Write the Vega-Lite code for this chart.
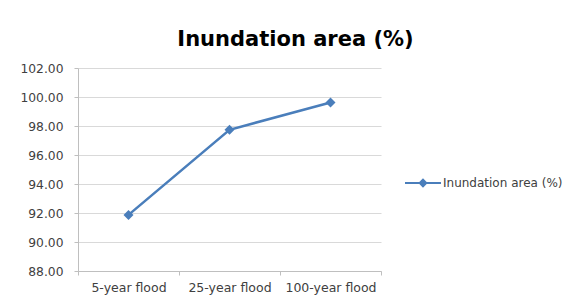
{
  "$schema": "https://vega.github.io/schema/vega-lite/v6.json",
  "autosize": {"type": "none"},
  "padding": {"left": 78, "top": 68, "right": 195, "bottom": 31},
  "width": 303,
  "height": 203,
  "background": "white",
  "config": {
    "font": "DejaVu Sans",
    "view": {"stroke": null}
  },
  "title": {
    "text": "Inundation area (%)",
    "font": "DejaVu Sans",
    "fontSize": 21,
    "fontWeight": "bold",
    "color": "#000000",
    "anchor": "middle",
    "dx": 66,
    "offset": 12
  },
  "data": {
    "values": [
      {"event": "5-year flood", "value": 91.87, "series": "Inundation area (%)"},
      {"event": "25-year flood", "value": 97.74, "series": "Inundation area (%)"},
      {"event": "100-year flood", "value": 99.62, "series": "Inundation area (%)"}
    ]
  },
  "mark": {"type": "line", "strokeWidth": 2.5, "point": {"shape": "diamond", "size": 100, "filled": true}},
  "encoding": {
    "x": {
      "field": "event",
      "type": "nominal",
      "sort": null,
      "scale": {"paddingInner": 0, "paddingOuter": 0},
      "axis": {
        "title": null,
        "labelAngle": 0,
        "tickBand": "extent",
        "grid": false,
        "domainColor": "#bfbfbf",
        "tickColor": "#bfbfbf",
        "tickSize": 4,
        "labelFont": "DejaVu Sans",
        "labelFontSize": 12.5,
        "labelColor": "#404040",
        "labelPadding": 6
      }
    },
    "y": {
      "field": "value",
      "type": "quantitative",
      "scale": {"domain": [88, 102], "nice": false, "zero": false},
      "axis": {
        "title": null,
        "values": [88, 90, 92, 94, 96, 98, 100, 102],
        "format": ".2f",
        "gridColor": "#d9d9d9",
        "domainColor": "#bfbfbf",
        "tickColor": "#bfbfbf",
        "tickSize": 4,
        "labelFont": "DejaVu Sans",
        "labelFontSize": 12.3,
        "labelColor": "#404040",
        "labelPadding": 11
      }
    },
    "color": {
      "field": "series",
      "type": "nominal",
      "scale": {"range": ["#4a7ebb"]},
      "legend": {
        "title": null,
        "orient": "none",
        "legendX": 326,
        "legendY": 96,
        "symbolType": "M-1,0H1M-0.18,0L0,-0.18L0.18,0L0,0.18Z",
        "symbolSize": 1296,
        "symbolStrokeWidth": 2,
        "symbolFillColor": "#4a7ebb",
        "symbolStrokeColor": "#4a7ebb",
        "labelFont": "DejaVu Sans",
        "labelFontSize": 12,
        "labelColor": "#404040",
        "labelOffset": 1
      }
    }
  }
}
